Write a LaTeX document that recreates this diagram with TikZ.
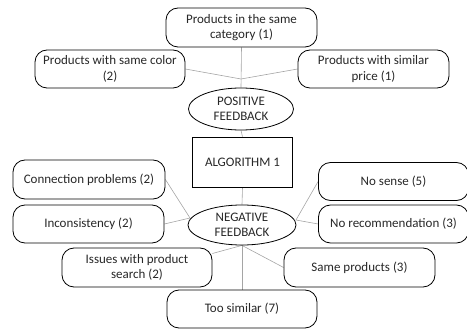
\documentclass[tikz,border=0pt]{standalone}
\usepackage{fontspec}
\setmainfont{Carlito}
\usetikzlibrary{shapes.geometric,calc,backgrounds}
\definecolor{linkgray}{RGB}{165,165,165}
\definecolor{txt}{RGB}{40,40,40}
\tikzset{
  lbl/.style={text=txt, font=\fontsize{13}{15.5}\selectfont},
  box/.style={draw=black, line width=0.8pt, rounded corners=12pt, fill=white, align=center, inner sep=0pt, lbl},
  oval/.style={draw=black, line width=0.8pt, ellipse, fill=white, align=center, inner sep=0pt, lbl},
  algo/.style={draw=black, line width=0.8pt, fill=white, align=center, inner sep=0pt, lbl},
  link/.style={draw=linkgray, line width=0.6pt}
}
\begin{document}
\begin{tikzpicture}[x=1pt,y=-1pt]
\useasboundingbox (0,0) rectangle (467,329);
% nodes
\node[box, minimum width=151pt, minimum height=39pt] (cat) at (241.5,27.5) {Products in the same\\category (1)};
\node[box, minimum width=150pt, minimum height=38pt] (color) at (110,69) {Products with same color\\(2)};
\node[box, minimum width=151pt, minimum height=38pt] (price) at (373.5,69) {Products with similar\\price (1)};
\node[oval, minimum width=105pt, minimum height=42pt] (pos) at (241,109) {POSITIVE\\FEEDBACK};
\node[algo, minimum width=100pt, minimum height=50pt] (alg) at (242.5,162) {ALGORITHM 1};
\node[oval, minimum width=108pt, minimum height=40pt] (neg) at (242,225) {NEGATIVE\\FEEDBACK};
\node[box, minimum width=152pt, minimum height=39pt] (conn) at (89,179.5) {Connection problems (2)};
\node[box, minimum width=151pt, minimum height=38pt] (incons) at (88.5,224) {Inconsistency (2)};
\node[box, minimum width=150pt, minimum height=39pt] (issues) at (137,267.5) {Issues with product\\search (2)};
\node[box, minimum width=150pt, minimum height=38pt] (similar) at (242,309) {Too similar (7)};
\node[box, minimum width=151pt, minimum height=39pt] (same) at (359.5,267.5) {Same products (3)};
\node[box, minimum width=150pt, minimum height=38pt] (norec) at (393.5,224) {No recommendation (3)};
\node[box, minimum width=150pt, minimum height=38pt] (nosense) at (393.5,181.5) {No sense (5)};
% junction points
\coordinate (pc) at (241,79);
\coordinate (nl) at (190,218);
\coordinate (nr) at (296,220);
% connectors
\begin{scope}[on background layer]
\path[link] (cat.south) -- (pos.north);
\path[link] (color.east) -- (pc);
\path[link] (price.west) -- (pc);
\path[link] (pos.south) -- (alg.north);
\path[link] (alg.south) -- (neg.north);
\path[link] (conn.east) -- (nl);
\path[link] (incons.east) -- (nl);
\path[link] ($(issues.east)+(0,-14)$) -- (neg.south);
\path[link] (neg.south) -- (similar.north);
\path[link] (neg.south) -- (same.west);
\path[link] (nr) -- (norec.west);
\path[link] (nr) -- (nosense.west);
\end{scope}
\end{tikzpicture}
\end{document}
